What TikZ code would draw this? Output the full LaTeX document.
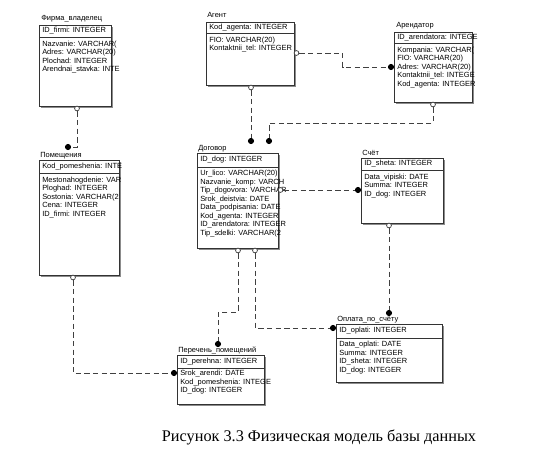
\documentclass[tikz,border=0pt]{standalone}
\usepackage{fontspec}
\setmainfont{Liberation Sans}
\newfontfamily\capfont{Liberation Serif}
\usetikzlibrary{shadows}

\begin{document}
\begin{tikzpicture}[
                        x=0.75pt,
                        y=-0.75pt,
                        entity/.style={
                            rectangle,
                            draw=black!80,
                            fill=white,
                            line width=0.5pt,
                            anchor=north west,
                            inner sep=0pt,
                            drop shadow={shadow xshift=1.6pt, shadow yshift=-1.6pt, fill=black!45, opacity=1}
                        },
                        boxw/.style={minimum width=#1*0.75pt},
                        boxh/.style={minimum height=#1*0.75pt},
                        title/.style={
                            font=\fontsize{5.6}{6.4}\selectfont,
                            anchor=base west,
                            inner sep=0pt
                        },
                        keyattr/.style={
                            font=\fontsize{5.6}{6.4}\selectfont,
                            anchor=west,
                            inner sep=0pt
                        },
                        attrs/.style={
                            font=\fontsize{5.6}{6.4}\selectfont,
                            anchor=north west,
                            align=left,
                            inner sep=0pt
                        },
                        sepline/.style={
                            draw=black!80,
                            line width=0.5pt
                        },
                        rel/.style={
                            draw=black!75,
                            line width=0.6pt,
                            dash pattern=on 4pt off 2.5pt
                        },
                        opn/.style={
                            circle,
                            draw=black!80,
                            fill=white,
                            line width=0.5pt,
                            inner sep=0pt,
                            minimum size=3.6pt
                        },
                        dot/.style={
                            circle,
                            fill=black,
                            inner sep=0pt,
                            minimum size=4.6pt
                        }]

                        \useasboundingbox (0,0) rectangle (539,460);

                        % entities
                        \node (firma) [entity, boxw=72, boxh=81] at (39,25) {};
                        \node (firma_t) [title] at (41,21) {Фирма\_владелец};
                        \node (firma_k) [keyattr] at (42,31) {ID\_firmi: INTEGER};
                        \draw [sepline] (39,37) -- (111,37);
                        \node (firma_a) [attrs] at (42,40.5) {Nazvanie: VARCHAR(\\Adres: VARCHAR(20)\\Plochad: INTEGER\\Arendnai\_stavka: INTE};

                        \node (agent) [entity, boxw=88, boxh=63] at (206,22) {};
                        \node (agent_t) [title] at (207,18) {Агент};
                        \node (agent_k) [keyattr] at (209,27.5) {Kod\_agenta: INTEGER};
                        \draw [sepline] (206,33) -- (294,33);
                        \node (agent_a) [attrs] at (209,36.5) {FIO: VARCHAR(20)\\Kontaktnii\_tel: INTEGER};

                        \node (arendator) [entity, boxw=78, boxh=70] at (394,32) {};
                        \node (arendator_t) [title] at (396,28) {Арендатор};
                        \node (arendator_k) [keyattr] at (397,37.5) {ID\_arendatora: INTEGE};
                        \draw [sepline] (394,43) -- (472,43);
                        \node (arendator_a) [attrs] at (397,46.5) {Kompania: VARCHAR(\\FIO: VARCHAR(20)\\Adres: VARCHAR(20)\\Kontaktnii\_tel: INTEGE\\Kod\_agenta: INTEGER};

                        \node (pomeshenia) [entity, boxw=80, boxh=115] at (39,160) {};
                        \node (pomeshenia_t) [title] at (40,157) {Помещения};
                        \node (pomeshenia_k) [keyattr] at (42,167) {Kod\_pomeshenia: INTE};
                        \draw [sepline] (39,173) -- (119,173);
                        \node (pomeshenia_a) [attrs] at (42,176.5) {Mestonahogdenie: VAR\\Ploghad: INTEGER\\Sostonia: VARCHAR(2\\Cena: INTEGER\\ID\_firmi: INTEGER};

                        \node (dogovor) [entity, boxw=81, boxh=95] at (197,153) {};
                        \node (dogovor_t) [title] at (198,150) {Договор};
                        \node (dogovor_k) [keyattr] at (200,160) {ID\_dog: INTEGER};
                        \draw [sepline] (197,167) -- (278,167);
                        \node (dogovor_a) [attrs] at (200,170) {Ur\_lico: VARCHAR(20)\\Nazvanie\_komp: VARCH\\Tip\_dogovora: VARCHAR\\Srok\_deistvia: DATE\\Data\_podpisania: DATE\\Kod\_agenta: INTEGER\\ID\_arendatora: INTEGER\\Tip\_sdelki: VARCHAR(2};

                        \node (schet) [entity, boxw=82, boxh=65] at (361,158) {};
                        \node (schet_t) [title] at (362,155) {Счёт};
                        \node (schet_k) [keyattr] at (364,164) {ID\_sheta: INTEGER};
                        \draw [sepline] (361,170) -- (443,170);
                        \node (schet_a) [attrs] at (364,173.5) {Data\_vipiski: DATE\\Summa: INTEGER\\ID\_dog: INTEGER};

                        \node (oplata) [entity, boxw=106, boxh=58] at (336,324) {};
                        \node (oplata_t) [title] at (337,321) {Оплата\_по\_счёту};
                        \node (oplata_k) [keyattr] at (339,331) {ID\_oplati: INTEGER};
                        \draw [sepline] (336,338) -- (442,338);
                        \node (oplata_a) [attrs] at (339,341) {Data\_oplati: DATE\\Summa: INTEGER\\ID\_sheta: INTEGER\\ID\_dog: INTEGER};

                        \node (perechen) [entity, boxw=87, boxh=49] at (177,355) {};
                        \node (perechen_t) [title] at (178,352) {Перечень\_помещений};
                        \node (perechen_k) [keyattr] at (180,361.5) {ID\_perehna: INTEGER};
                        \draw [sepline] (177,368) -- (264,368);
                        \node (perechen_a) [attrs] at (180,370) {Srok\_arendi: DATE\\Kod\_pomeshenia: INTEGE\\ID\_dog: INTEGER};

                        % relationship ends
                        \node (firma_o) [opn] at (77,108.5) {};
                        \node (pomeshenia_i) [dot] at (68,147) {};
                        \node (pomeshenia_o) [opn] at (73,277.5) {};
                        \node (perechen_i1) [dot] at (174,373) {};
                        \node (agent_o1) [opn] at (251,87.5) {};
                        \node (dogovor_i1) [dot] at (251,141) {};
                        \node (agent_o2) [opn] at (296.5,53) {};
                        \node (arendator_i) [dot] at (391,67) {};
                        \node (arendator_o) [opn] at (433,104.5) {};
                        \node (dogovor_i2) [dot] at (269,141) {};
                        \node (dogovor_o1) [opn] at (280.5,190) {};
                        \node (schet_i) [dot] at (358,190) {};
                        \node (dogovor_o2) [opn] at (238,250.5) {};
                        \node (perechen_i2) [dot] at (218,344) {};
                        \node (dogovor_o3) [opn] at (255,250.5) {};
                        \node (oplata_i1) [dot] at (333,328) {};
                        \node (schet_o) [opn] at (389,225.5) {};
                        \node (oplata_i2) [dot] at (389,313) {};

                        \draw [rel] (firma_o) |- (pomeshenia_i);
                        \draw [rel] (pomeshenia_o) |- (perechen_i1);
                        \draw [rel] (agent_o1) -- (dogovor_i1);
                        \draw [rel] (agent_o2) -- ++(46,0) |- (arendator_i);
                        \draw [rel] (arendator_o) -- ++(0,18.5) -| (dogovor_i2);
                        \draw [rel] (dogovor_o1) -- (schet_i);
                        \draw [rel] (dogovor_o2) -- ++(0,61.5) -| (perechen_i2);
                        \draw [rel] (dogovor_o3) |- (oplata_i1);
                        \draw [rel] (schet_o) -- (oplata_i2);

                        \node (caption) [font=\capfont\fontsize{12.2}{14}\selectfont] at (319,437) {Рисунок 3.3 Физическая модель базы данных};

                    \end{tikzpicture}
\end{document}
